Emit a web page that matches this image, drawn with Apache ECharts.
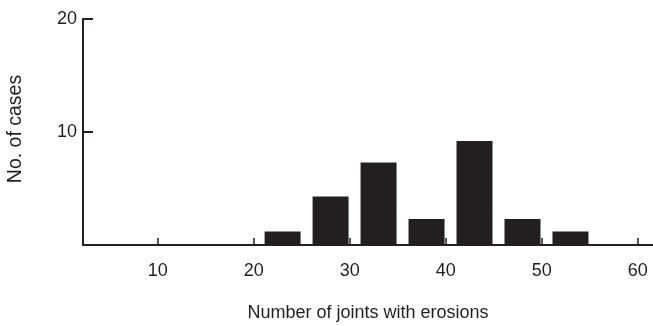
<!DOCTYPE html>
<html><head><meta charset="utf-8">
<script src="https://cdn.jsdelivr.net/npm/echarts@6/dist/echarts.min.js"></script>
<style>html,body{margin:0;padding:0;background:#fff}#c{width:653px;height:326px}</style>
</head><body><div id="c"></div>
<script>
const binCenters = [23, 28, 33, 38, 43, 48, 53];
const caseCounts = [1.2, 4.3, 7.3, 2.3, 9.2, 2.3, 1.2];
const xTicks = [10, 20, 30, 40, 50, 60];
const yTicks = [10, 20];
const xName = 'Number of joints with erosions';
const yName = 'No. of cases';

const ink = '#231f20';
const font = 'Liberation Sans, Arial, Helvetica, sans-serif';
const chart = echarts.init(document.getElementById('c'), null, {renderer: 'canvas'});
chart.setOption({
  animation: false,
  grid: {left: 83, right: 0, top: 19, bottom: 81, containLabel: false, outerBoundsMode: 'none'},
  xAxis: {
    type: 'value', min: 2.2, max: 61.6,
    name: xName, nameLocation: 'middle', nameGap: 59,
    nameTextStyle: {color: ink, fontSize: 18, fontFamily: font},
    axisLine: {show: true, lineStyle: {color: ink, width: 2}},
    axisTick: {show: true, inside: true, length: 7, customValues: xTicks, lineStyle: {color: ink, width: 1.5}},
    axisLabel: {show: true, customValues: xTicks, color: ink, fontSize: 18, fontFamily: font, margin: 17},
    splitLine: {show: false}
  },
  yAxis: {
    type: 'value', min: 0, max: 20,
    name: yName, nameLocation: 'middle', nameGap: 57, nameRotate: 90,
    nameTextStyle: {color: ink, fontSize: 19.5, fontFamily: font, padding: [0, 0, 0, 6]},
    axisLine: {show: true, lineStyle: {color: ink, width: 2}},
    axisTick: {show: true, inside: true, length: 10, customValues: yTicks, lineStyle: {color: ink, width: 2}},
    axisLabel: {show: true, customValues: yTicks, color: ink, fontSize: 18, fontFamily: font, margin: 6},
    splitLine: {show: false}
  },
  series: [{
    type: 'bar',
    data: binCenters.map((c, i) => [c, caseCounts[i]]),
    barWidth: 36,
    itemStyle: {color: ink}
  }]
});
</script></body></html>
